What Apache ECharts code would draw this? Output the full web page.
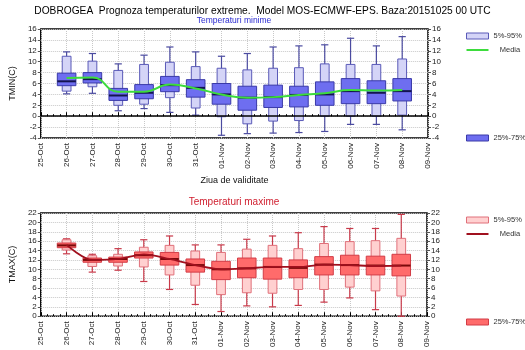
<!DOCTYPE html>
<html>
<head>
<meta charset="utf-8">
<script src="https://cdn.jsdelivr.net/npm/echarts@6/dist/echarts.min.js"></script>
<style>
  html, body { margin: 0; padding: 0; background: #fff; }
  #chart { width: 525px; height: 350px; }
</style>
</head>
<body>
<div id="chart"></div>
<script>
// axis tick labels (index 0 = 25-Oct)
const dates = ['25-Oct', '26-Oct', '27-Oct', '28-Oct', '29-Oct', '30-Oct', '31-Oct', '01-Nov',
  '02-Nov', '03-Nov', '04-Nov', '05-Nov', '06-Nov', '07-Nov', '08-Nov', '09-Nov']
// days that have a forecast box
const boxDays = ['26-Oct', '27-Oct', '28-Oct', '29-Oct', '30-Oct', '31-Oct', '01-Nov',
  '02-Nov', '03-Nov', '04-Nov', '05-Nov', '06-Nov', '07-Nov', '08-Nov']

// Temperaturi minime
const tminMin  = [4.1, 4.2, 1.0, 1.4, 0.7, 0.2, -3.5, -3.2, -3.1, -3.0, -2.8, -1.5, -1.5, -2.5]
const tminP5   = [4.6, 5.4, 2.0, 2.2, 3.4, 1.5, -0.1, -1.4, -0.9, -0.8, 0.0, 0.0, 0.0, 0.2]
const tminQ25  = [5.6, 6.1, 2.9, 3.2, 4.5, 3.5, 2.2, 1.1, 1.6, 1.7, 2.0, 2.3, 2.3, 2.8]
const tminMed  = [6.4, 6.8, 3.8, 4.3, 5.7, 5.2, 4.0, 3.4, 3.5, 3.9, 4.0, 4.6, 4.3, 4.6]
const tminQ75  = [7.9, 8.0, 5.1, 5.8, 7.3, 6.7, 6.0, 5.5, 5.7, 5.5, 6.3, 6.9, 6.5, 6.9]
const tminP95  = [11.0, 10.1, 8.4, 9.5, 9.9, 9.1, 8.8, 8.5, 8.8, 8.9, 9.6, 9.5, 9.5, 10.5]
const tminMax  = [11.8, 11.5, 9.6, 11.2, 12.7, 11.8, 11.0, 11.5, 12.7, 12.9, 13.1, 14.3, 12.9, 14.6]
const tminMean = [7.0, 7.1, 4.5, 4.5, 5.8, 5.1, 4.0, 3.4, 3.5, 3.9, 4.2, 4.8, 4.7, 4.8]

// Temperaturi maxime
const tmaxMin  = [13.3, 9.4, 9.8, 7.4, 5.7, 2.5, 1.0, 2.2, 2.0, 2.3, 3.0, 3.9, 1.4, 0.0]
const tmaxP5   = [14.1, 10.6, 10.7, 10.5, 8.8, 6.6, 4.6, 5.0, 4.9, 5.7, 5.7, 6.2, 5.4, 4.3]
const tmaxQ25  = [14.6, 11.5, 11.5, 12.4, 10.9, 9.4, 7.8, 8.2, 7.9, 8.2, 8.8, 8.8, 8.8, 8.6]
const tmaxMed  = [15.1, 12.0, 12.2, 13.0, 12.2, 10.9, 10.0, 10.2, 10.5, 10.3, 11.0, 10.9, 10.8, 10.8]
const tmaxQ75  = [15.6, 12.4, 12.6, 13.7, 13.6, 12.2, 11.7, 12.4, 12.4, 12.0, 12.7, 13.0, 12.8, 13.2]
const tmaxP95  = [16.3, 12.9, 13.2, 14.7, 15.1, 13.9, 13.6, 14.3, 15.1, 14.4, 15.5, 15.9, 16.1, 16.6]
const tmaxMax  = [16.5, 13.2, 14.4, 16.3, 17.1, 15.2, 15.2, 16.4, 17.1, 17.8, 19.1, 18.7, 18.7, 21.7]
const tmaxMean = [15.2, 12.0, 12.2, 13.2, 12.2, 10.9, 10.0, 10.2, 10.5, 10.5, 11.0, 10.9, 10.7, 10.8]

const FONT = "'Liberation Sans', Arial, sans-serif"

const blue = {
  light: '#d4d4f7', lightBorder: '#5a5ab8', dark: '#6e6ef0', darkBorder: '#3a3aa8',
  whisker: '#4b4ba0', median: '#141450', mean: '#3ddc3d'
}
const red = {
  light: '#ffd0d0', lightBorder: '#e0707a', dark: '#ff6b6b', darkBorder: '#d23c46',
  whisker: '#c83a4a', median: '#7a0a0a', mean: '#a0101e'
}

function boxRows(mn, p5, q25, med, q75, p95, mx) {
  return boxDays.map((d, i) => [dates.indexOf(d), mn[i], p5[i], q25[i], med[i], q75[i], p95[i], mx[i]])
}
function lineRows(vals) {
  return boxDays.map((d, i) => [dates.indexOf(d), vals[i]])
}

// whiskers + 5%-95% box
function renderOuter(c) {
  return function (params, api) {
    const x = api.value(0)
    const w = api.size([1, 0])[0]
    const lo = api.coord([x, api.value(1)])
    const p5 = api.coord([x, api.value(2)])
    const p95 = api.coord([x, api.value(6)])
    const hi = api.coord([x, api.value(7)])
    const cx = lo[0]
    const half = w * 0.17
    const cap = w * 0.14
    const ws = { stroke: c.whisker, lineWidth: 1.2 }
    return {
      type: 'group',
      children: [
        { type: 'line', shape: { x1: cx, y1: lo[1], x2: cx, y2: hi[1] }, style: ws },
        { type: 'line', shape: { x1: cx - cap, y1: lo[1], x2: cx + cap, y2: lo[1] }, style: ws },
        { type: 'line', shape: { x1: cx - cap, y1: hi[1], x2: cx + cap, y2: hi[1] }, style: ws },
        {
          type: 'rect',
          shape: { x: cx - half, y: p95[1], width: half * 2, height: p5[1] - p95[1] },
          style: { fill: c.light, stroke: c.lightBorder, lineWidth: 1 }
        }
      ]
    }
  }
}

// 25%-75% box + median
function renderInner(c) {
  return function (params, api) {
    const x = api.value(0)
    const w = api.size([1, 0])[0]
    const q25 = api.coord([x, api.value(3)])
    const med = api.coord([x, api.value(4)])
    const q75 = api.coord([x, api.value(5)])
    const cx = q25[0]
    const half = w * 0.36
    return {
      type: 'group',
      children: [
        {
          type: 'rect',
          shape: { x: cx - half, y: q75[1], width: half * 2, height: q25[1] - q75[1] },
          style: { fill: c.dark, stroke: c.darkBorder, lineWidth: 1 }
        },
        {
          type: 'line',
          shape: { x1: cx - half, y1: med[1], x2: cx + half, y2: med[1] },
          style: { stroke: c.median, lineWidth: 2 }
        }
      ]
    }
  }
}

function xAxisFor(gridIndex, withName) {
  return {
    type: 'value', gridIndex, min: 0, max: 15, interval: 1,
    name: withName ? 'Ziua de validitate' : '',
    nameLocation: 'middle', nameGap: 38,
    nameTextStyle: { fontSize: 9, color: '#111', fontFamily: FONT },
    axisLine: { show: false },
    axisTick: { show: true, inside: true, length: 4, lineStyle: { color: '#000', width: 1 } },
    minorTick: { show: true, splitNumber: 4, length: 2, lineStyle: { color: '#000', width: 1 } },
    axisLabel: {
      rotate: 90, fontSize: 8, color: '#222', margin: 5, fontFamily: FONT,
      showMinLabel: true, showMaxLabel: true,
      formatter: v => dates[v] || ''
    },
    splitLine: { show: true, lineStyle: { color: '#c8c8c8', type: 'dotted', width: 1 } }
  }
}

function yAxesFor(gridIndex, min, max, name) {
  const label = { fontSize: 8, color: '#222', margin: 4, fontFamily: FONT }
  const tick = { show: true, length: 3, lineStyle: { color: '#555' } }
  return [
    {
      type: 'value', gridIndex, min, max, interval: 2, position: 'left',
      name, nameLocation: 'middle', nameGap: 22,
      nameTextStyle: { fontSize: 9, color: '#111', fontFamily: FONT },
      axisLine: { show: false }, axisTick: tick, axisLabel: label,
      splitLine: { show: true, lineStyle: { color: '#c8c8c8', type: 'dotted', width: 1 } }
    },
    {
      type: 'value', gridIndex, min, max, interval: 2, position: 'right',
      axisLine: { show: false }, axisTick: tick, axisLabel: label,
      splitLine: { show: false }
    }
  ]
}

function legendFor(top, names, c) {
  return {
    left: 461, top, orient: 'vertical', itemWidth: 22, itemHeight: 6, itemGap: 6,
    selectedMode: false,
    textStyle: { fontSize: 7.5, color: '#333', fontFamily: FONT },
    formatter: n => (n === 'Media' ? '   Media' : n),
    data: names.map(n => {
      if (n === 'Media') {
        return { name: n, icon: 'path://M0 0H22V2H0Z', itemStyle: { color: c.mean, borderWidth: 0 } }
      }
      if (n === '5%-95%') {
        return { name: n, icon: 'rect', itemStyle: { color: c.light, borderColor: c.lightBorder, borderWidth: 1 } }
      }
      return { name: n, icon: 'rect', itemStyle: { color: c.dark, borderColor: c.darkBorder, borderWidth: 1 } }
    })
  }
}

const chart = echarts.init(document.getElementById('chart'), null, { renderer: 'canvas' })

chart.setOption({
  animation: false,
  textStyle: { fontFamily: FONT },
  title: {
    text: 'DOBROGEA  Prognoza temperaturilor extreme.  Model MOS-ECMWF-EPS. Baza:20151025 00 UTC',
    left: 'center', top: 1,
    textStyle: { fontSize: 10.2, fontWeight: 'normal', color: '#000', fontFamily: FONT }
  },
  graphic: [
    { type: 'text', x: 234, y: 20.5, style: { text: 'Temperaturi minime', align: 'center', verticalAlign: 'middle', fill: '#2a2ad0', font: '8.5px ' + FONT } },
    { type: 'text', x: 234, y: 202, style: { text: 'Temperaturi maxime', align: 'center', verticalAlign: 'middle', fill: '#d02030', font: '10px ' + FONT } }
  ],
  legend: [
    legendFor(27, ['5%-95%', 'Media'], blue),
    legendFor(129, ['25%-75%'], blue),
    legendFor(211, ['5%-95%', 'Media'], red),
    legendFor(313, ['25%-75%'], red)
  ],
  grid: [
    { left: 40, right: 97, top: 29, height: 109, show: true, borderColor: '#000', borderWidth: 1.5 },
    { left: 40, right: 98, top: 213, height: 108, show: true, borderColor: '#000', borderWidth: 1.5 }
  ],
  xAxis: [xAxisFor(0, true), xAxisFor(1, false)],
  yAxis: [...yAxesFor(0, -4, 16, 'TMIN(C)'), ...yAxesFor(1, 0, 22, 'TMAX(C)')],
  series: [
    {
      name: '5%-95%', type: 'custom', xAxisIndex: 0, yAxisIndex: 0,
      itemStyle: { color: blue.light },
      renderItem: renderOuter(blue), encode: { x: 0, y: [1, 7] },
      data: boxRows(tminMin, tminP5, tminQ25, tminMed, tminQ75, tminP95, tminMax)
    },
    {
      name: '25%-75%', type: 'custom', xAxisIndex: 0, yAxisIndex: 0,
      itemStyle: { color: blue.dark },
      renderItem: renderInner(blue), encode: { x: 0, y: [3, 5] },
      data: boxRows(tminMin, tminP5, tminQ25, tminMed, tminQ75, tminP95, tminMax)
    },
    {
      name: 'Media', type: 'line', xAxisIndex: 0, yAxisIndex: 0, smooth: true,
      symbol: 'none', lineStyle: { color: blue.mean, width: 2 }, itemStyle: { color: blue.mean },
      data: lineRows(tminMean),
      markLine: {
        silent: true, symbol: 'none', label: { show: false },
        lineStyle: { color: '#000', width: 1.5, type: 'solid' },
        data: [{ yAxis: 0 }]
      }
    },
    {
      name: '5%-95%', type: 'custom', xAxisIndex: 1, yAxisIndex: 2,
      itemStyle: { color: red.light },
      renderItem: renderOuter(red), encode: { x: 0, y: [1, 7] },
      data: boxRows(tmaxMin, tmaxP5, tmaxQ25, tmaxMed, tmaxQ75, tmaxP95, tmaxMax)
    },
    {
      name: '25%-75%', type: 'custom', xAxisIndex: 1, yAxisIndex: 2,
      itemStyle: { color: red.dark },
      renderItem: renderInner(red), encode: { x: 0, y: [3, 5] },
      data: boxRows(tmaxMin, tmaxP5, tmaxQ25, tmaxMed, tmaxQ75, tmaxP95, tmaxMax)
    },
    {
      name: 'Media', type: 'line', xAxisIndex: 1, yAxisIndex: 2, smooth: 0.3,
      symbol: 'none', lineStyle: { color: red.mean, width: 1.8 }, itemStyle: { color: red.mean },
      data: lineRows(tmaxMean)
    }
  ]
})

window.addEventListener('resize', () => chart.resize())
</script>
</body>
</html>
